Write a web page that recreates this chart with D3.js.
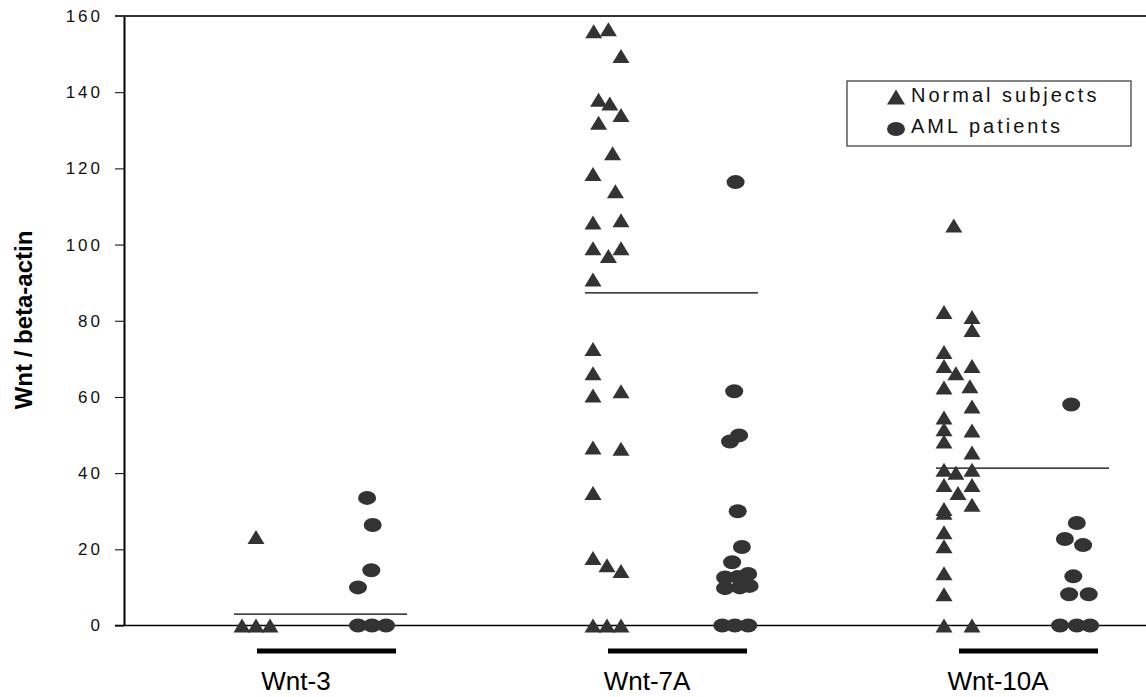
<!DOCTYPE html>
<html>
<head>
<meta charset="utf-8">
<script src="https://cdn.jsdelivr.net/npm/d3@7"></script>
<style>
  html, body { margin: 0; padding: 0; background: #fff; }
  svg { display: block; font-family: "Liberation Sans", Arial, sans-serif; }
</style>
</head>
<body>
<div id="chart"></div>
<script>
// categories and series
var categories = ['Wnt-3', 'Wnt-7A', 'Wnt-10A'];
var groups = ['Normal subjects', 'AML patients'];
var yTicks = [0, 20, 40, 60, 80, 100, 120, 140, 160];

// each point: [value, jitter column]
var normalWnt3 = [[23.2, 0], [0, -1], [0, 0], [0, 1]];
var amlWnt3 = [[33.5, -0.35], [26.4, 0.05], [14.5, -0.05], [10, -1],
               [0, -1], [0, 0], [0, 1]];

var normalWnt7A = [[156, -0.95], [156.5, 0.1], [149.5, 1], [138, -0.6], [137, 0.2],
                   [134, 1], [132, -0.6], [124, 0.4], [118.5, -1], [114, 0.6],
                   [105.8, -1], [106.4, 1], [99, -1], [97, 0.1], [99, 1], [90.8, -1],
                   [72.6, -1], [66.2, -1], [60.4, -1], [61.5, 1], [46.7, -1], [46.4, 1],
                   [34.8, -1], [17.7, -1], [15.8, 0], [14.3, 1],
                   [0, -1], [0, 0], [0, 1]];
var amlWnt7A = [[116.4, 0.9], [61.5, 0.8], [49.9, 1.15], [48.3, 0.5], [30, 1.05],
                [20.6, 1.35], [16.6, 0.65], [12.6, 0.15], [12.7, 1.05], [13.5, 1.8],
                [9.8, 0.15], [10, 1.2], [10.4, 1.9],
                [0, -0.05], [0, 0.85], [0, 1.8]];

var normalWnt10A = [[105, -0.3], [82.3, -1], [81, 1], [77.6, 1], [71.8, -1], [68.1, -1],
                    [68.1, 1], [66.2, -0.15], [62.5, -1], [62.8, 0.85], [57.5, 1],
                    [54.6, -1], [51.5, -1], [51.2, 1], [48.3, -1], [45.4, 1],
                    [40.9, -1], [40.1, -0.15], [40.9, 1], [36.9, -1], [34.8, 0], [36.9, 1],
                    [30.6, -1], [29.6, -1], [31.7, 1], [24.5, -1], [20.8, -1],
                    [13.7, -1], [8.2, -1], [0, -1], [0, 1]];
var amlWnt10A = [[58, -0.2], [26.9, 0.2], [22.7, -0.65], [21.1, 0.65], [12.9, -0.05],
                 [8.2, -0.35], [8.2, 1.05], [0, -1], [0, 0.2], [0, 1.15]];

var means = [3.0, 87.3, 41.3];

var seriesByCat = [
  [normalWnt3, amlWnt3],
  [normalWnt7A, amlWnt7A],
  [normalWnt10A, amlWnt10A]
];

var width = 1146, height = 697;
var markColor = '#333333';

var svg = d3.select('#chart').append('svg')
    .attr('width', width)
    .attr('height', height);

var y = d3.scaleLinear().domain([0, 160]).range([625.5, 16]);
var xCat = d3.scalePoint().domain(categories).range([314, 1016]);
var xGroup = d3.scalePoint().domain(groups).range([-58, 58]);
var colW = 14;

var points = [];
categories.forEach(function(c, i){
  groups.forEach(function(g, j){
    seriesByCat[i][j].forEach(function(p){
      points.push({cat: c, group: g, value: p[0], col: p[1]});
    });
  });
});

function px(d){ return xCat(d.cat) + xGroup(d.group) + d.col * colW; }

function triangle(w, h){
  return 'M' + (-w / 2) + ',' + (h / 2) + 'L0,' + (-h / 2) + 'L' + (w / 2) + ',' + (h / 2) + 'Z';
}

// y axis
var yAxis = d3.axisLeft(y).tickValues(yTicks).tickSize(9).tickSizeOuter(0).tickPadding(12);
var gy = svg.append('g').attr('transform', 'translate(124,0)').call(yAxis);
gy.select('.domain').attr('stroke', '#000').attr('stroke-width', 2);
gy.selectAll('.tick line').attr('stroke', '#000').attr('stroke-width', 1);
gy.selectAll('.tick text')
  .attr('fill', '#111')
  .style('font-size', '17px')
  .style('letter-spacing', '3px');

// top border and zero line
svg.append('line')
  .attr('x1', 115).attr('x2', width)
  .attr('y1', y(160)).attr('y2', y(160))
  .attr('stroke', '#333').attr('stroke-width', 2);
svg.append('line')
  .attr('x1', 115).attr('x2', width)
  .attr('y1', y(0)).attr('y2', y(0))
  .attr('stroke', '#000').attr('stroke-width', 1.5);

// axis title
svg.append('text')
  .attr('transform', 'translate(32,320) rotate(-90)')
  .attr('text-anchor', 'middle')
  .style('font-size', '24px')
  .style('font-weight', 'bold')
  .attr('fill', '#000')
  .text('Wnt / beta-actin');

// mean lines
svg.selectAll('line.mean')
  .data(means)
  .enter().append('line').classed('mean', true)
  .attr('x1', function(d, i){ return xCat(categories[i]) - 80; })
  .attr('x2', function(d, i){ return xCat(categories[i]) + 93; })
  .attr('y1', function(d){ return y(d); })
  .attr('y2', function(d){ return y(d); })
  .attr('stroke', '#000').attr('stroke-width', 1.2);

// markers
svg.selectAll('path.normal')
  .data(points.filter(function(d){ return d.group === groups[0]; }))
  .enter().append('path').classed('normal', true)
  .attr('d', triangle(17, 14))
  .attr('transform', function(d){ return 'translate(' + px(d) + ',' + y(d.value) + ')'; })
  .attr('fill', markColor);

svg.selectAll('ellipse.aml')
  .data(points.filter(function(d){ return d.group === groups[1]; }))
  .enter().append('ellipse').classed('aml', true)
  .attr('cx', px)
  .attr('cy', function(d){ return y(d.value); })
  .attr('rx', 9).attr('ry', 7)
  .attr('fill', markColor);

// thick bars under each category
svg.selectAll('line.bar')
  .data(categories)
  .enter().append('line').classed('bar', true)
  .attr('x1', function(d){ return xCat(d) - 57; })
  .attr('x2', function(d){ return xCat(d) + 82; })
  .attr('y1', 651).attr('y2', 651)
  .attr('stroke', '#000').attr('stroke-width', 5);

// category labels
svg.selectAll('text.cat')
  .data(categories)
  .enter().append('text').classed('cat', true)
  .attr('x', function(d){ return xCat(d) - 18; })
  .attr('y', 690)
  .attr('text-anchor', 'middle')
  .style('font-size', '26px')
  .attr('fill', '#000')
  .text(function(d){ return d; });

// legend
var legend = svg.append('g').attr('transform', 'translate(847,81)');
legend.append('rect')
  .attr('x', 0).attr('y', 0).attr('width', 284).attr('height', 65)
  .attr('fill', '#fff').attr('stroke', '#333').attr('stroke-width', 1.2);
legend.append('path')
  .attr('d', triangle(18, 15))
  .attr('transform', 'translate(49,16)')
  .attr('fill', markColor);
legend.append('ellipse')
  .attr('cx', 49).attr('cy', 48).attr('rx', 9).attr('ry', 7)
  .attr('fill', markColor);
legend.selectAll('text')
  .data(groups)
  .enter().append('text')
  .attr('x', 64)
  .attr('y', function(d, i){ return 21 + i * 31; })
  .style('font-size', '20px')
  .style('letter-spacing', '3px')
  .attr('fill', '#111')
  .text(function(d){ return d; });
</script>
</body>
</html>
